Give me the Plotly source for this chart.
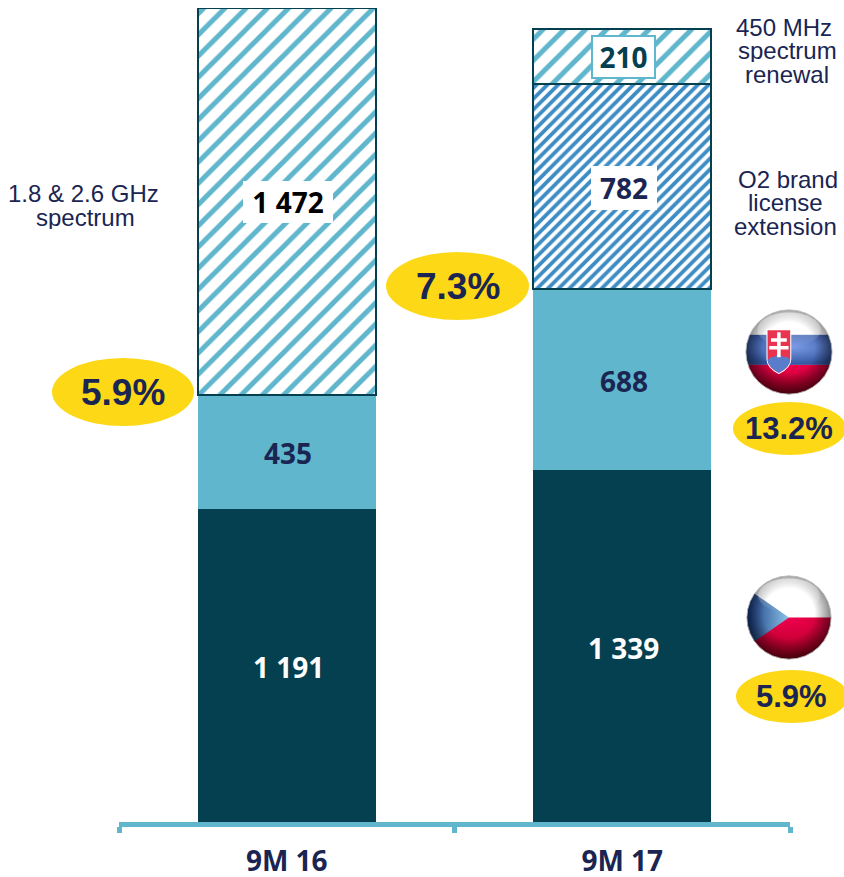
import base64
import plotly.graph_objects as go

categories = ["9M 16", "9M 17"]
czech = [1191, 1339]
slovakia = [435, 688]
spectrum_18_26 = [1472, None]
o2_license = [None, 782]
spectrum_450 = [None, 210]
growth_totals = ["5.9%", "7.3%"]
growth_slovakia = "13.2%"
growth_czech = "5.9%"
note_spectrum = ["1.8 & 2.6 GHz", "spectrum"]
note_450 = ["450 MHz", "spectrum", "renewal"]
note_o2 = ["O2 brand", "license", "extension"]

DARK = "#04404f"
LIGHT = "#60b6cc"
MID = "#3d8cc4"
YELLOW = "#fdd816"
NAVY = "#1a2552"
W, H = 844, 877
L, R, T, B = 119, 54, 8, 55
PW, PH = W - L - R, H - T - B


def px(x):
    return (x - L) / PW


def py(y):
    return 1 - (y - T) / PH


def fmt(v):
    return f"{v:,}".replace(",", " ")


fig = go.Figure()
fig.add_bar(x=categories, y=czech, name="Czech", marker=dict(color=DARK, line=dict(width=0)), hoverinfo="skip")
fig.add_bar(x=categories, y=slovakia, name="Slovakia", marker=dict(color=LIGHT, line=dict(width=0)), hoverinfo="skip")
for vals, nm, col, size, sol in [
    (spectrum_18_26, "1.8 & 2.6 GHz spectrum", LIGHT, 15, 0.33),
    (o2_license, "O2 brand license extension", MID, 7.6, 0.5),
    (spectrum_450, "450 MHz spectrum renewal", LIGHT, 15, 0.33),
]:
    fig.add_bar(x=categories, y=vals, name=nm, hoverinfo="skip",
                marker=dict(color="white", line=dict(color=DARK, width=2),
                            pattern=dict(shape="/", fgcolor=col, bgcolor="white", size=size, solidity=sol,
                                         fillmode="replace")))

ann = []


def label(cat, y, v, color, yshift=-1.5):
    ann.append(dict(x=cat, y=y, xref="x", yref="y", text=f"<b>{fmt(v)}</b>", showarrow=False, xshift=1.5,
                    yshift=yshift, font=dict(family="Open Sans", size=28, color=color)))


def boxed(cat, y, v, color, w, h, box=None, dx=0):
    ann.append(dict(x=cat, y=y, xref="x", yref="y", text=f"<b>{fmt(v)}</b>", showarrow=False, xshift=1.5 + dx,
                    yshift=-1, width=w, height=h, font=dict(family="Open Sans", size=28, color=color),
                    bgcolor="white", bordercolor=box or "white", borderwidth=2, borderpad=1))


label(categories[0], czech[0] / 2, czech[0], "white")
label(categories[1], czech[1] / 2, czech[1], "white")
label(categories[0], czech[0] + slovakia[0] / 2, slovakia[0], NAVY)
label(categories[1], czech[1] + slovakia[1] / 2, slovakia[1], NAVY)
boxed(categories[0], czech[0] + slovakia[0] + spectrum_18_26[0] / 2, spectrum_18_26[0], "black", 84, 36)
boxed(categories[1], czech[1] + slovakia[1] + o2_license[1] / 2, o2_license[1], NAVY, 60, 38)
boxed(categories[1], czech[1] + slovakia[1] + o2_license[1] + spectrum_450[1] / 2, spectrum_450[1], DARK, 59, 38, LIGHT)


def lines(txts, cxs, ys):
    for t, cx, y in zip(txts, cxs, ys):
        ann.append(dict(x=px(cx), y=py(y), xref="paper", yref="paper", text=t, showarrow=False, height=23,
                        font=dict(family="Liberation Sans", size=24, color=NAVY), xanchor="center", yanchor="middle"))


lines(note_spectrum, [83, 85], [194, 218])
lines(note_450, [784, 787, 787], [28, 51, 75])
lines(note_o2, [788, 785, 785], [180, 203, 226])

shapes = []


def pill(x0, y0, x1, y1, t, size, tx=None):
    shapes.append(dict(type="circle", xref="paper", yref="paper", x0=px(x0), x1=px(x1), y0=py(y1), y1=py(y0),
                       fillcolor=YELLOW, line=dict(width=0), layer="above"))
    ann.append(dict(x=px(tx if tx else (x0 + x1) / 2), y=py((y0 + y1) / 2), xref="paper", yref="paper",
                    text=t, showarrow=False, xanchor="center", yanchor="middle",
                    font=dict(family="'Liberation Sans', Arial, sans-serif", size=size, color=NAVY, weight=700)))


pill(52, 358, 194, 426, growth_totals[0], 37)
pill(386, 252, 529, 320, growth_totals[1], 37)
pill(733, 402, 846, 455, growth_slovakia, 31, 789)
pill(736, 670, 848, 723, growth_czech, 31, 791)

GLOSS = """<defs>
<clipPath id="c"><circle cx="50" cy="50" r="49"/></clipPath>
<radialGradient id="s" cx="50%" cy="45%" r="55%"><stop offset="55%" stop-color="#000" stop-opacity="0"/>
<stop offset="100%" stop-color="#000" stop-opacity=".6"/></radialGradient>
<linearGradient id="g" x1="0" y1="0" x2="0" y2="1"><stop offset="0" stop-color="#fff" stop-opacity=".5"/>
<stop offset="1" stop-color="#fff" stop-opacity="0"/></linearGradient>
<linearGradient id="b" x1="0" y1="0" x2="1" y2="0"><stop offset="0" stop-color="#14357f"/>
<stop offset="1" stop-color="#8cc6e8"/></linearGradient>
<radialGradient id="sb" cx="55%" cy="40%" r="60%"><stop offset="0" stop-color="#7a9be6"/>
<stop offset="100%" stop-color="#33549f"/></radialGradient>
<radialGradient id="r" cx="50%" cy="0%" r="100%"><stop offset="0" stop-color="#f2004e"/>
<stop offset="100%" stop-color="#a80020"/></radialGradient></defs>"""
FINISH = """<circle cx="50" cy="50" r="49" fill="url(#s)"/>
<ellipse cx="50" cy="24" rx="36" ry="20" fill="url(#g)"/>
<circle cx="50" cy="50" r="49" fill="none" stroke="#bbb" stroke-width="1"/>"""
SK = f"""<svg xmlns="http://www.w3.org/2000/svg" viewBox="0 0 100 100">{GLOSS}
<g clip-path="url(#c)"><rect width="100" height="100" fill="#fff"/>
<rect y="30" width="100" height="35" fill="url(#sb)"/><rect y="65" width="100" height="35" fill="url(#r)"/></g>{FINISH}
<path d="M25 24H52V58Q52 68 38.5 75Q25 68 25 58Z" fill="#e8344f" stroke="#fff" stroke-width="1.2"/>
<path d="M25.5 60Q30 54 33 56Q38 50 44 56Q48 54 51.5 60Q50 68 38.5 74.5Q27 68 25.5 60Z" fill="#5a7ccc"/>
<path d="M36.5 27h4v7h7v4h-7v5h9v4h-9v9h-4v-9h-9v-4h9v-5h-7v-4h7z" fill="#fff"/></svg>"""
CZ = f"""<svg xmlns="http://www.w3.org/2000/svg" viewBox="0 0 100 100">{GLOSS}
<g clip-path="url(#c)"><rect width="100" height="50" fill="#fff"/>
<rect y="50" width="100" height="50" fill="url(#r)"/>
<path d="M0 15L50 50L0 85Z" fill="url(#b)"/></g>{FINISH}</svg>"""


def uri(s):
    return "data:image/svg+xml;base64," + base64.b64encode(s.encode()).decode()


images = [
    dict(source=uri(SK), xref="paper", yref="paper", x=px(745), y=py(309), sizex=88 / PW, sizey=86 / PH,
         xanchor="left", yanchor="top", sizing="stretch", layer="above"),
    dict(source=uri(CZ), xref="paper", yref="paper", x=px(746), y=py(575), sizex=86 / PW, sizey=85 / PH,
         xanchor="left", yanchor="top", sizing="stretch", layer="above"),
]

fig.update_layout(
    barmode="stack", bargap=0.47, width=W, height=H, autosize=False,
    margin=dict(l=L, r=R, t=T, b=B, pad=0, autoexpand=False), showlegend=False,
    plot_bgcolor="white", paper_bgcolor="white",
    annotations=ann, shapes=shapes, images=images,
    xaxis=dict(type="category", showline=True, linecolor=LIGHT, linewidth=5, ticks="outside", tickson="boundaries",
               tickcolor=LIGHT, tickwidth=5, ticklen=6, showgrid=False, ticklabelstandoff=10, automargin=False,
               tickfont=dict(family="Open Sans", size=28, color=NAVY, weight="bold")),
    yaxis=dict(visible=False, range=[0, sum(v for v in [czech[0], slovakia[0], spectrum_18_26[0]])]),
)
fig.write_html("out.html", config={"displayModeBar": False}, post_script="document.body.style.margin='0';document.body.style.overflow='hidden';")
